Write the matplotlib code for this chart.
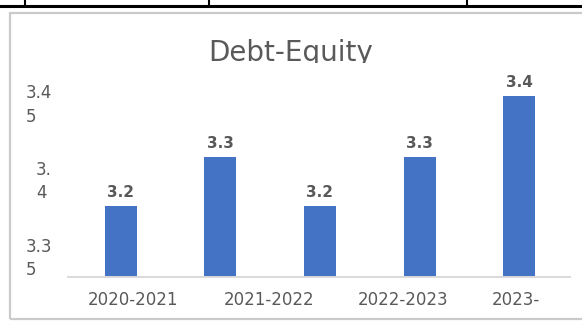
import matplotlib.pyplot as plt
from matplotlib.lines import Line2D
from matplotlib.patches import Rectangle
from matplotlib.transforms import Bbox

W, H = 582, 322

# data
bars = [0, 1, 2, 3, 4]
debt_equity = [3.381, 3.413, 3.381, 3.413, 3.453]
bar_labels = ["3.2", "3.3", "3.2", "3.3", "3.4"]
year_labels = ["2020-2021", "2021-2022", "2022-2023", "2023-"]
y_ticks = [3.35, 3.40, 3.45]
y_tick_labels = ["3.3\n5", "3.\n4", "3.4\n5"]

grey = "#595959"
blue = "#4472C4"


def fx(px):
    return px / W


def fy(py):
    return 1 - py / H


fig = plt.figure(figsize=(W / 100, H / 100), dpi=100)
plt.rcParams["font.family"] = ["DejaVu Sans"]

# bits of the surrounding table and the chart frame
fig.add_artist(Line2D([0, 1], [fy(5.5), fy(5.5)], color="black", lw=2.2,
                      transform=fig.transFigure))
for x in [25, 209, 467]:
    fig.add_artist(Line2D([fx(x), fx(x)], [fy(0), fy(5.5)], color="black",
                          lw=1.5, transform=fig.transFigure))
fig.add_artist(Rectangle((fx(10), fy(319)), fx(600) - fx(10), fy(13) - fy(319),
                         fill=False, edgecolor="#CACACA", lw=1.6,
                         transform=fig.transFigure))

ax = fig.add_axes([fx(68), fy(277), fx(570) - fx(68), fy(85) - fy(277)])
ax.bar(bars, debt_equity, width=0.32, color=blue, bottom=0)
ax.set_ylim(3.335, 3.46)
ax.set_xlim(-0.53, 4.51)

for x, v, lab in zip(bars, debt_equity, bar_labels):
    ax.annotate(lab, (x, v), xytext=(0, 6.5), textcoords="offset points",
                ha="center", va="baseline", fontsize=11, fontweight="bold",
                color=grey)

ax.set_yticks(y_ticks)
ax.set_yticklabels(y_tick_labels, fontsize=12, color=grey, linespacing=1.38)
for t in ax.get_yticklabels():
    t.set_multialignment("left")
ax.tick_params(axis="y", length=0, pad=11.5)

ax.set_xticks([0.12, 1.49, 2.83, 3.97])
ax.set_xticklabels(year_labels, fontsize=12, color=grey)
ax.tick_params(axis="x", length=0, pad=10)

for s in ["top", "right", "left"]:
    ax.spines[s].set_visible(False)
ax.spines["bottom"].set_color("#D9D9D9")
ax.spines["bottom"].set_linewidth(1.4)

title = fig.text(0.5, fy(61), "Debt-Equity", ha="center", va="baseline",
                 fontsize=20, color=grey)
title.set_clip_box(Bbox([[0, H - 63], [W, H]]))

fig.savefig("out.png", dpi=100)
